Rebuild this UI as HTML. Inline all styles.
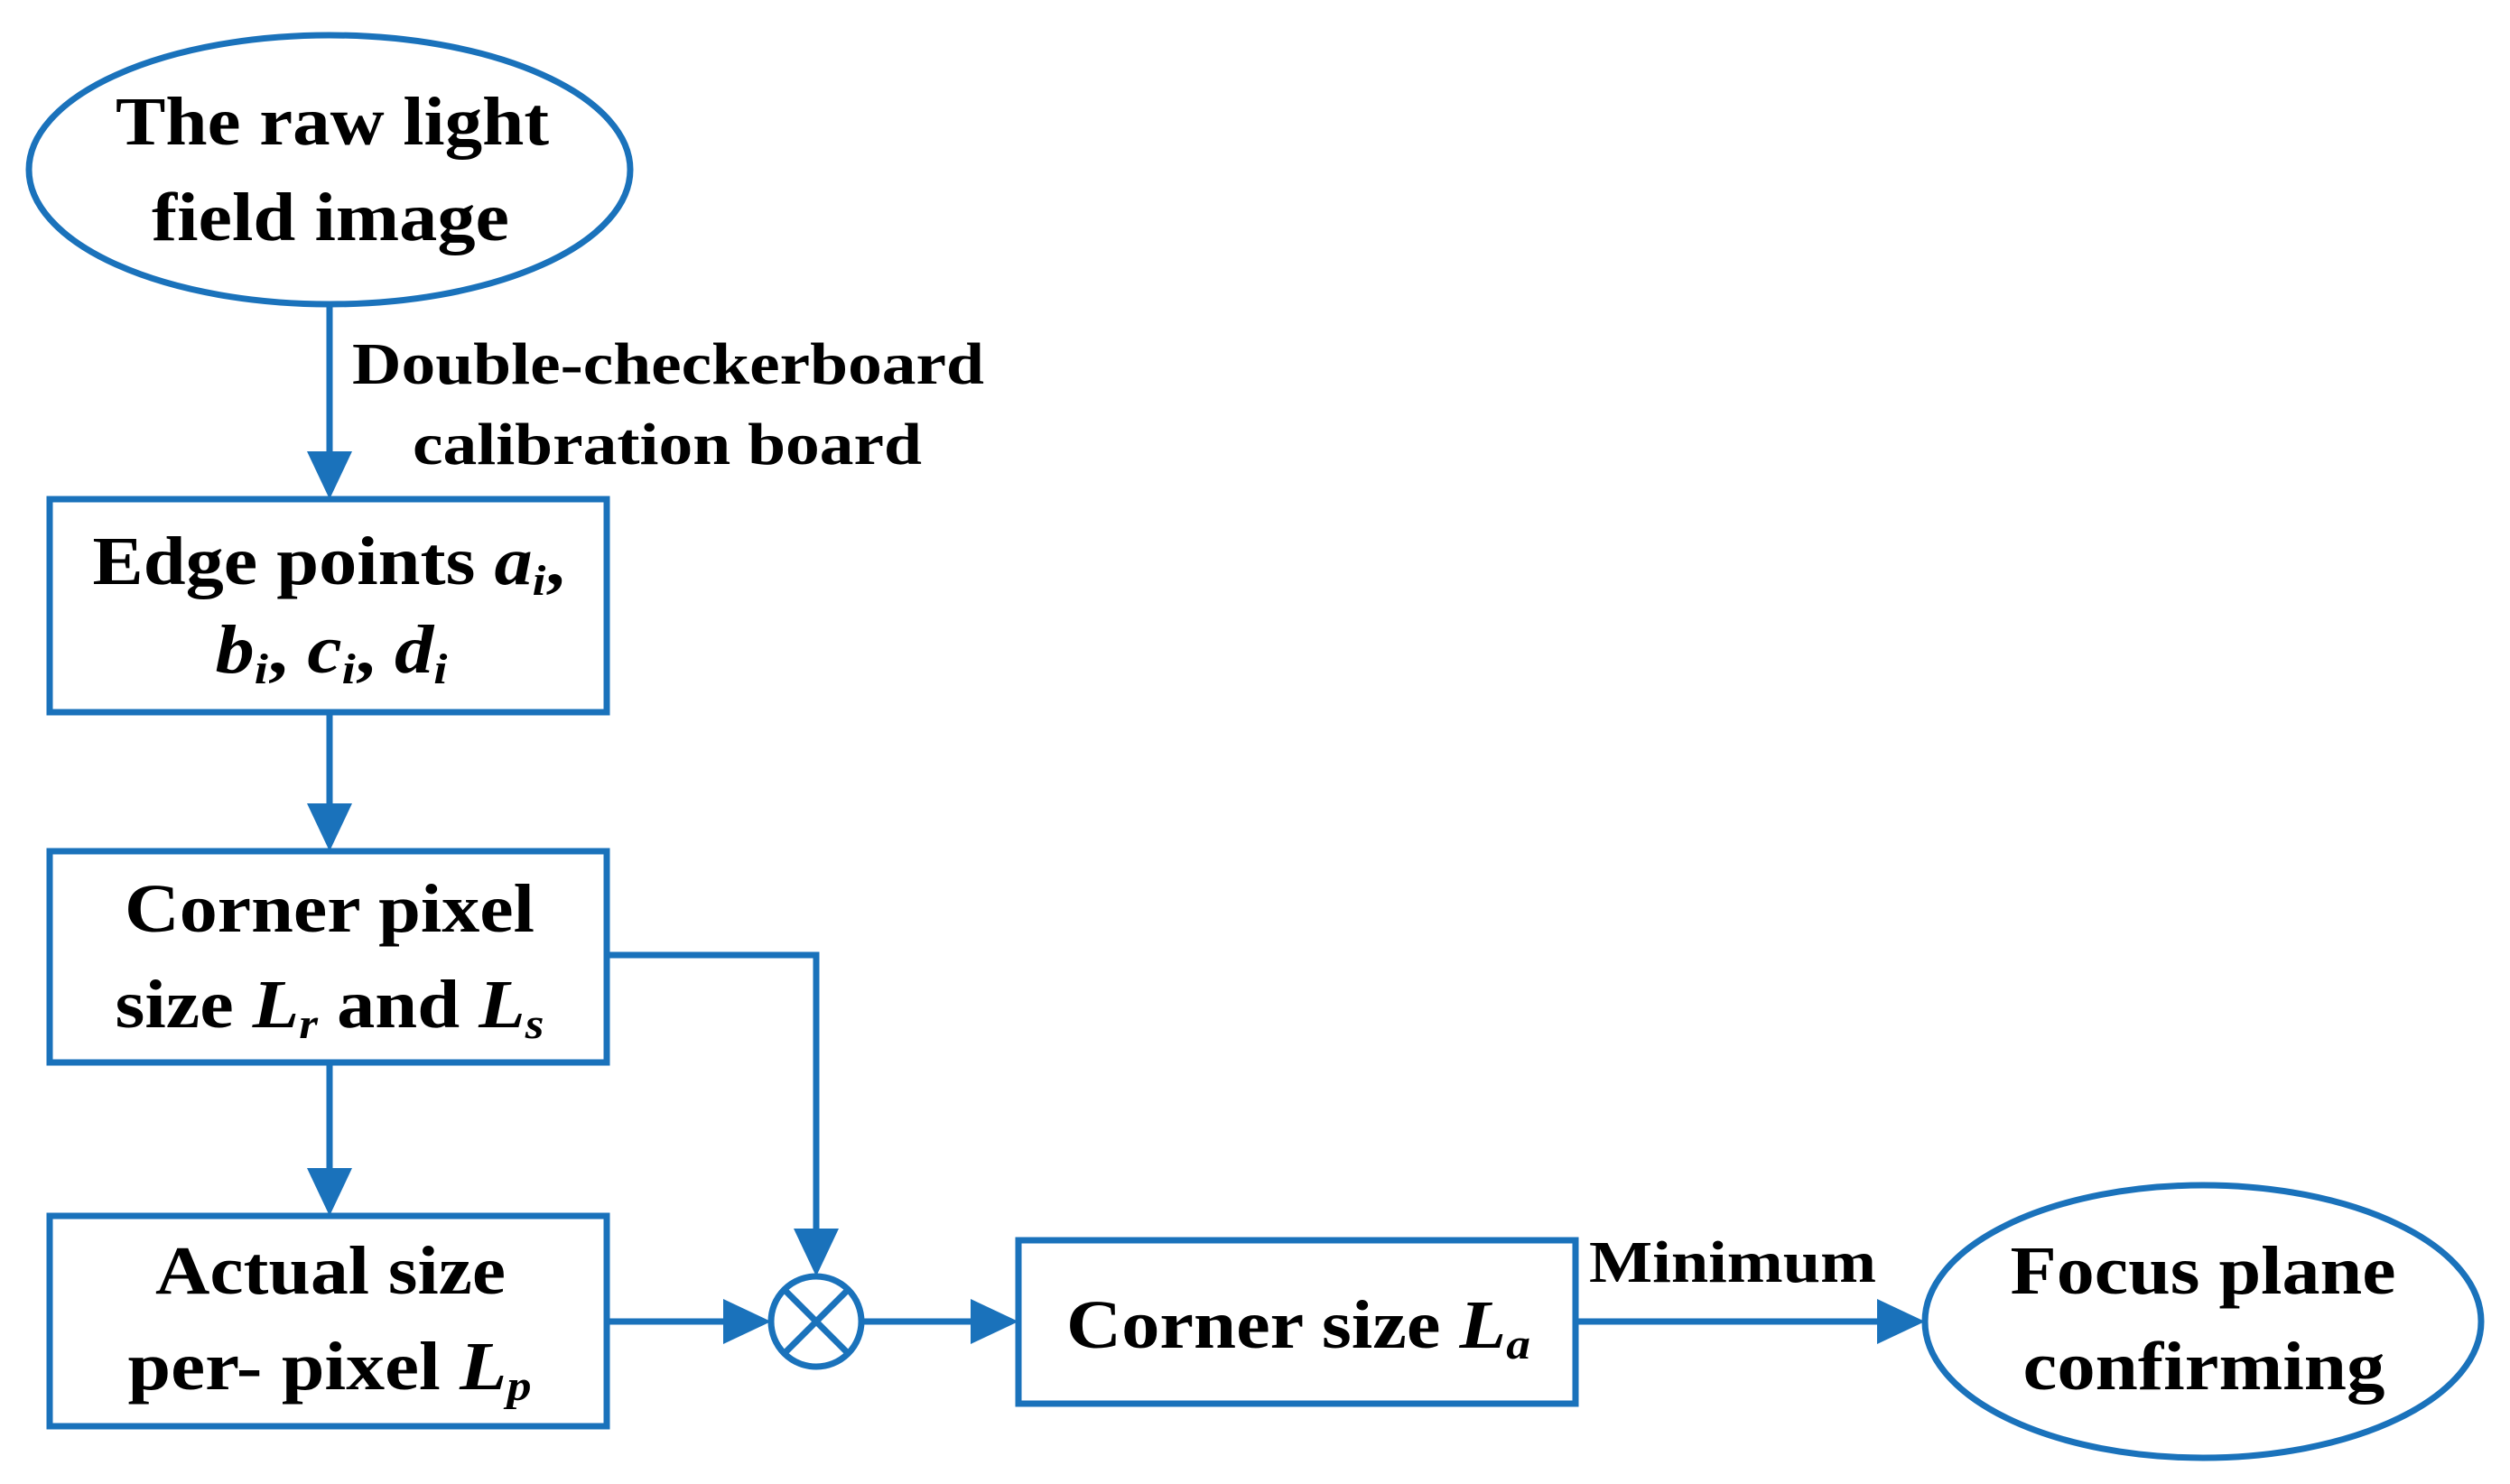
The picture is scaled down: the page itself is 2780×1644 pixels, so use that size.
<!DOCTYPE html>
<html><head><meta charset="utf-8"><style>
html,body{margin:0;padding:0;background:#fff}
svg{display:block}
text{font-family:"Liberation Serif",serif;font-weight:bold;fill:#000}
</style></head><body>
<svg width="2780" height="1644" viewBox="0 0 2780 1644" xmlns="http://www.w3.org/2000/svg">
<defs>
<marker id="ah" markerWidth="8" markerHeight="8" refX="7.5" refY="4" orient="auto" markerUnits="userSpaceOnUse" viewBox="0 0 8 8">
</marker>
</defs>
<g stroke="#1a72bb" stroke-width="7" fill="none">
<ellipse cx="365" cy="188" rx="333" ry="149"/>
<rect x="55" y="553" width="617" height="236"/>
<rect x="55" y="943" width="617" height="234"/>
<rect x="55" y="1347" width="617" height="233"/>
<rect x="1128" y="1374" width="617" height="181"/>
<ellipse cx="2440" cy="1464" rx="308" ry="151"/>
<circle cx="904" cy="1464" r="50"/>
<line x1="869" y1="1429" x2="939" y2="1499"/>
<line x1="939" y1="1429" x2="869" y2="1499"/>
<line x1="365" y1="337" x2="365" y2="510"/>
<line x1="365" y1="789" x2="365" y2="900"/>
<line x1="365" y1="1177" x2="365" y2="1304"/>
<polyline points="672,1058 904,1058 904,1371"/>
<line x1="672" y1="1464" x2="811" y2="1464"/>
<line x1="954" y1="1464" x2="1085" y2="1464"/>
<line x1="1745" y1="1464" x2="2089" y2="1464"/>
</g>
<g fill="#1a72bb">
<polygon points="340,500 390,500 365,553"/>
<polygon points="340,890 390,890 365,943"/>
<polygon points="340,1294 390,1294 365,1347"/>
<polygon points="879,1361 929,1361 904,1414"/>
<polygon points="801,1439 801,1489 854,1464"/>
<polygon points="1075,1439 1075,1489 1128,1464"/>
<polygon points="2079,1439 2079,1489 2132,1464"/>
</g>
<g font-size="76" text-anchor="middle">
<text x="368" y="160" textLength="480" lengthAdjust="spacingAndGlyphs">The raw light</text>
<text x="366" y="266" textLength="396" lengthAdjust="spacingAndGlyphs">field image</text>
<text x="740" y="425" font-size="66" textLength="700" lengthAdjust="spacingAndGlyphs">Double-checkerboard</text>
<text x="739" y="514" font-size="66" textLength="564" lengthAdjust="spacingAndGlyphs">calibration board</text>
<text x="364" y="647" textLength="523" lengthAdjust="spacingAndGlyphs">Edge points <tspan font-style="italic">a</tspan><tspan font-style="italic" font-size="48" dy="12">i</tspan><tspan dy="-12">,</tspan></text>
<text x="367" y="745" textLength="257" lengthAdjust="spacingAndGlyphs"><tspan font-style="italic">b</tspan><tspan font-style="italic" font-size="48" dy="12">i</tspan><tspan dy="-12">, </tspan><tspan font-style="italic">c</tspan><tspan font-style="italic" font-size="48" dy="12">i</tspan><tspan dy="-12">, </tspan><tspan font-style="italic">d</tspan><tspan font-style="italic" font-size="48" dy="12">i</tspan></text>
<text x="365" y="1032" textLength="454" lengthAdjust="spacingAndGlyphs">Corner pixel</text>
<text x="365" y="1138" textLength="475" lengthAdjust="spacingAndGlyphs">size <tspan font-style="italic">L</tspan><tspan font-style="italic" font-size="48" dy="12">r</tspan><tspan dy="-12"> and </tspan><tspan font-style="italic">L</tspan><tspan font-style="italic" font-size="48" dy="12">s</tspan></text>
<text x="366" y="1433" textLength="388" lengthAdjust="spacingAndGlyphs">Actual size</text>
<text x="365" y="1539" textLength="447" lengthAdjust="spacingAndGlyphs">per- pixel <tspan font-style="italic">L</tspan><tspan font-style="italic" font-size="48" dy="12">p</tspan></text>
<text x="1438" y="1493" textLength="514" lengthAdjust="spacingAndGlyphs">Corner size <tspan font-style="italic">L</tspan><tspan font-style="italic" font-size="48" dy="12">a</tspan></text>
<text x="2440" y="1433" textLength="427" lengthAdjust="spacingAndGlyphs">Focus plane</text>
<text x="2441" y="1539" textLength="401" lengthAdjust="spacingAndGlyphs">confirming</text>
<text x="1919" y="1420" font-size="66" textLength="318" lengthAdjust="spacingAndGlyphs">Minimum</text>
</g>
</svg>
</body></html>
